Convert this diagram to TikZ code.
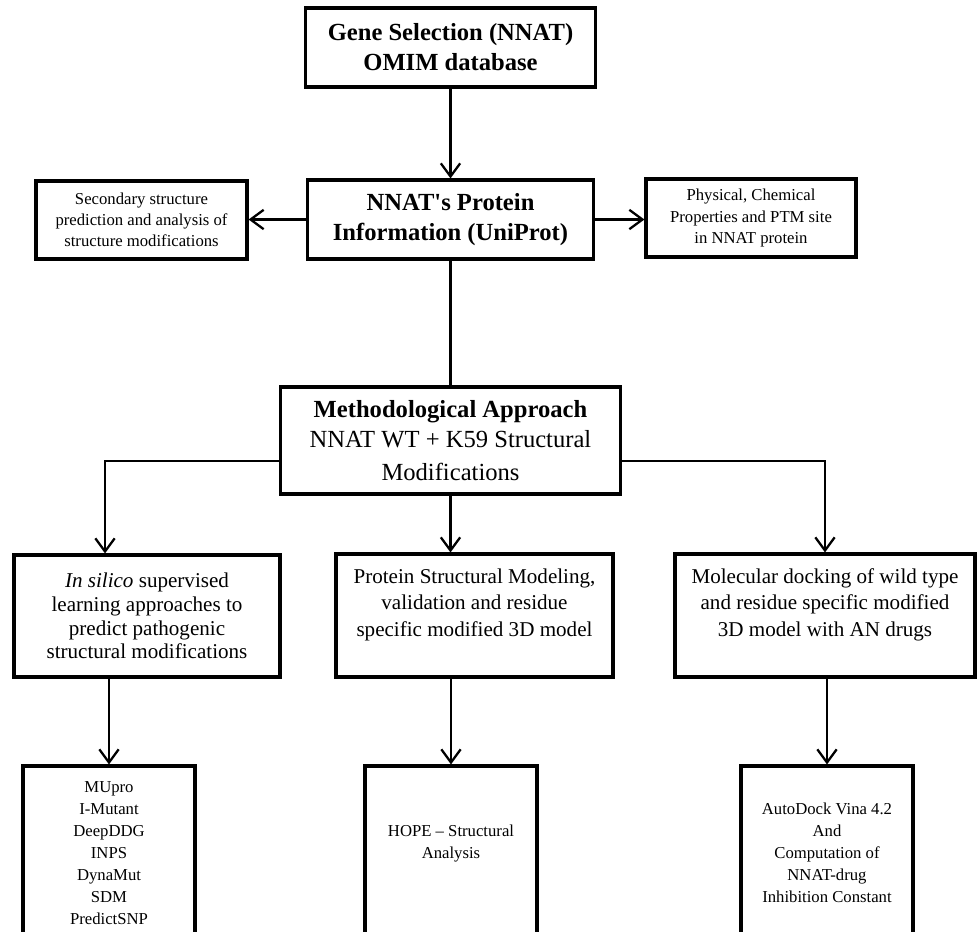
\documentclass[tikz,border=0pt]{standalone}
\usepackage{fontspec}
\setmainfont{Liberation Serif}
\usetikzlibrary{arrows.meta}

\tikzset{
    box/.style={draw, line width=1.8pt, align=center, inner sep=2pt},
    flow/.style={line width=1.3pt, -{Straight Barb[length=7.5pt,width=11pt]}},
    link/.style={line width=1.3pt},
    head/.style={font=\fontsize{14}{17}\selectfont},
    side/.style={font=\fontsize{9.5}{12}\selectfont},
    step box/.style={font=\fontsize{12}{15}\selectfont},
    tool/.style={font=\fontsize{9.5}{12.5}\selectfont, minimum width=3.44cm, minimum height=3.48cm},
}

\begin{document}
\begin{tikzpicture}[x=0.02cm, y=-0.02cm]
    \useasboundingbox (0,0) rectangle (978,931);
    \clip (0,0) rectangle (978,931);

    \node[box, head, minimum width=5.8cm, minimum height=1.58cm] (gene) at (450.5,47.5)
        {\textbf{Gene Selection (NNAT)}\\\textbf{OMIM database}};
    \node[box, head, minimum width=5.72cm, minimum height=1.58cm] (protein) at (450.5,219.5)
        {\textbf{NNAT\textquotesingle s Protein}\\\textbf{Information (UniProt)}};

    \node[box, side, minimum width=4.22cm, minimum height=1.56cm] (secondary) at (141.5,220)
        {Secondary structure\\prediction and analysis of\\structure modifications};
    \node[box, side, minimum width=4.2cm, minimum height=1.56cm] (physical) at (751,218)
        {Physical, Chemical\\Properties and PTM site\\in NNAT protein};

    \node[box, head, minimum width=6.8cm, minimum height=2.14cm] (method) at (450.5,440.5)
        {\textbf{Methodological Approach}\\NNAT WT + K59 Structural\\[2pt]Modifications};

    \node[box, font=\fontsize{12}{13.5}\selectfont, minimum width=5.32cm, minimum height=2.44cm] (insilico) at (147,616)
        {\textit{In silico} supervised\\learning approaches to\\predict pathogenic\\structural modifications};
    \node[box, step box, minimum width=5.54cm, minimum height=2.46cm] (modeling) at (474.5,615.5)
        {Protein Structural Modeling,\\validation and residue\\specific modified 3D model\\\mbox{}};
    \node[box, step box, minimum width=6cm, minimum height=2.46cm] (docking) at (825,615.5)
        {Molecular docking of wild type\\and residue specific modified\\3D model with AN drugs\\\mbox{}};

    \node[box, tool] (tools) at (109,853)
        {MUpro\\I-Mutant\\DeepDDG\\INPS\\DynaMut\\SDM\\PredictSNP};
    \node[box, tool] (hope) at (451,853)
        {HOPE -- Structural\\Analysis\\\mbox{}};
    \node[box, tool] (autodock) at (827,853)
        {AutoDock Vina 4.2\\And\\Computation of\\NNAT-drug\\Inhibition Constant};

    \draw [flow] (gene) -- (protein);
    \draw [flow] (protein.west) -- (secondary.east |- protein.west);
    \draw [flow] (protein.east) -- (physical.west |- protein.east);
    \draw [link] (protein) -- (method);

    \draw [flow] (method.west |- 0,461) -| ([xshift=-0.84cm]insilico.north);
    \draw [flow] (method.east |- 0,461) -| (docking.north);
    \draw [flow] (method.south) -- (method.south |- modeling.north);

    \draw [flow] (insilico.south -| tools.north) -- (tools.north);
    \draw [flow] (modeling.south -| hope.north) -- (hope.north);
    \draw [flow] (docking.south -| autodock.north) -- (autodock.north);
\end{tikzpicture}
\end{document}
